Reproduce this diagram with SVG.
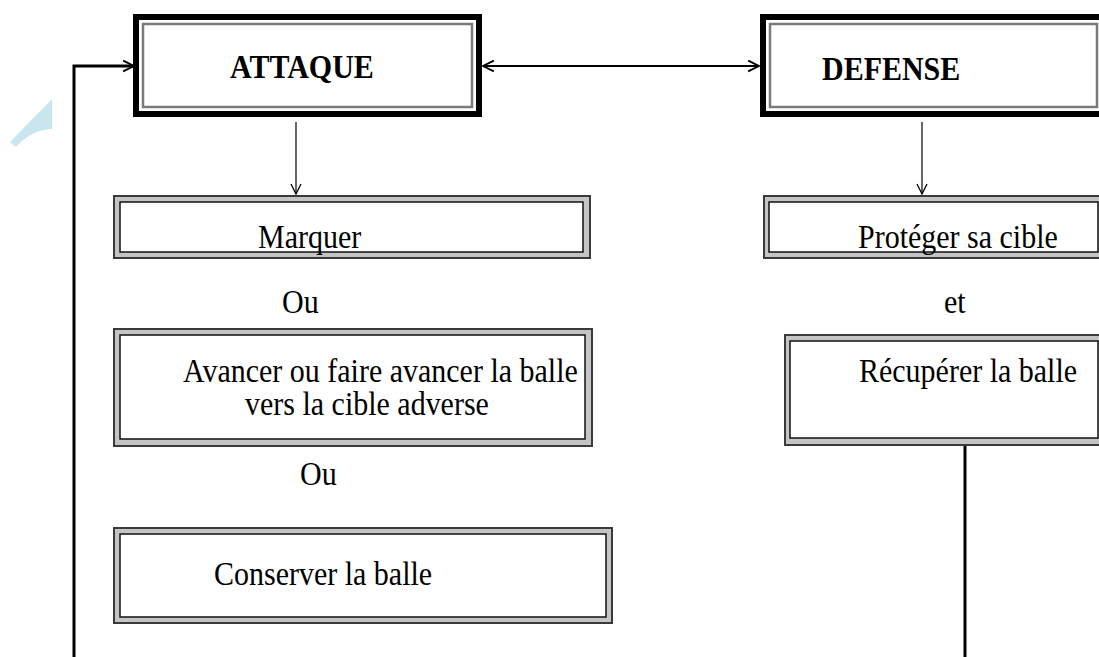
<svg xmlns="http://www.w3.org/2000/svg" width="1099" height="657" viewBox="0 0 1099 657">
  <defs>
    <marker id="chev" viewBox="0 0 12 12" refX="11" refY="6" markerWidth="13" markerHeight="13" markerUnits="userSpaceOnUse" orient="auto-start-reverse">
      <path d="M1,1 L11,6 L1,11" fill="none" stroke="#000" stroke-width="1.8"/>
    </marker>
    <marker id="vhead" viewBox="0 0 12 12" refX="11" refY="6" markerWidth="12" markerHeight="12" markerUnits="userSpaceOnUse" orient="auto">
      <path d="M1,1 L11,6 L1,11" fill="none" stroke="#000" stroke-width="1.3"/>
    </marker>
  </defs>
  <style>
    .t { font-family: "Liberation Serif", "Times New Roman", serif; font-size: 30px; fill: #000; }
    .b { font-weight: bold; }
    .mainOuter { fill: #fff; stroke: #000; stroke-width: 6; }
    .mainInner { fill: #fff; stroke: #7a7a7a; stroke-width: 2.5; }
    .subOuter { fill: #c4c4c4; stroke: #3a3a3a; stroke-width: 2; }
    .subInner { fill: #fff; stroke: #111; stroke-width: 1.5; }
    .conn { fill: none; stroke: #000; }
  </style>
  <rect width="1099" height="657" fill="#fff"/>

  <!-- light blue corner mark -->
  <path d="M10,142 L52,99 L52,129 Q31,130 16,147 Z" fill="#c9e5ee"/>

  <!-- connectors -->
  <g id="connectors">
    <path class="conn" d="M74,657 V66 H134" stroke-width="3" marker-end="url(#chev)"/>
    <line class="conn" x1="483" y1="66" x2="759" y2="66" stroke-width="2" marker-start="url(#chev)" marker-end="url(#chev)"/>
    <line class="conn" x1="296" y1="122" x2="296" y2="194" stroke-width="1.2" marker-end="url(#vhead)"/>
    <line class="conn" x1="922" y1="122" x2="922" y2="194" stroke-width="1.2" marker-end="url(#vhead)"/>
    <line class="conn" x1="965" y1="446" x2="965" y2="657" stroke-width="3"/>
  </g>

  <!-- labels are stretched slightly in height: scale(1,1.1) -->
  <g id="attaque">
    <rect class="mainOuter" x="136" y="17" width="343" height="97"/>
    <rect class="mainInner" x="143" y="24" width="329" height="83"/>
    <text class="t b" transform="translate(230,78) scale(1,1.1)">ATTAQUE</text>
  </g>

  <g id="defense">
    <rect class="mainOuter" x="763" y="17" width="345" height="97"/>
    <rect class="mainInner" x="770" y="24" width="327" height="83"/>
    <text class="t b" transform="translate(822,80) scale(1,1.1)">DEFENSE</text>
  </g>

  <g id="marquer">
    <rect class="subOuter" x="114" y="196" width="476" height="62"/>
    <rect class="subInner" x="120" y="202" width="463" height="50"/>
    <text class="t" transform="translate(258,248) scale(1,1.1)">Marquer</text>
  </g>

  <text id="ou1" class="t" transform="translate(282,313) scale(1,1.1)">Ou</text>

  <g id="avancer">
    <rect class="subOuter" x="114" y="329" width="478" height="117"/>
    <rect class="subInner" x="120" y="335" width="465" height="104"/>
    <text class="t" transform="translate(183,382) scale(1,1.1)">Avancer ou faire avancer la balle</text>
    <text class="t" transform="translate(245,415) scale(1,1.1)">vers la cible adverse</text>
  </g>

  <text id="ou2" class="t" transform="translate(300,485) scale(1,1.1)">Ou</text>

  <g id="conserver">
    <rect class="subOuter" x="114" y="528" width="498" height="95"/>
    <rect class="subInner" x="120" y="534" width="486" height="83"/>
    <text class="t" transform="translate(214,585) scale(1,1.1)">Conserver la balle</text>
  </g>

  <g id="proteger">
    <rect class="subOuter" x="764" y="196" width="345" height="62"/>
    <rect class="subInner" x="769" y="202" width="329" height="50"/>
    <text class="t" transform="translate(858,248) scale(1,1.1)">Protéger sa cible</text>
  </g>

  <text id="et" class="t" transform="translate(944,313) scale(1,1.1)">et</text>

  <g id="recuperer">
    <rect class="subOuter" x="785" y="335" width="324" height="110"/>
    <rect class="subInner" x="790" y="341" width="308" height="97"/>
    <text class="t" transform="translate(859,382) scale(1,1.1)">Récupérer la balle</text>
  </g>
</svg>
